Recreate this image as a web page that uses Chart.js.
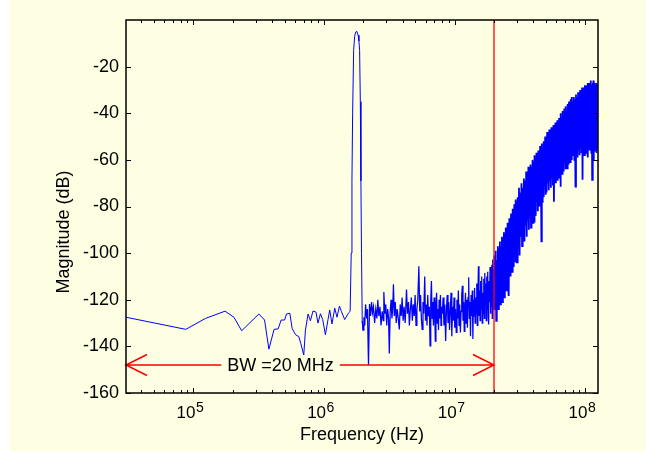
<!DOCTYPE html>
<html>
<head>
<meta charset="utf-8">
<style>
  html, body { margin: 0; padding: 0; background: #ffffff; }
  canvas { display: block; }
</style>
</head>
<body>
<canvas id="spectrum" width="646" height="454"></canvas>
<script src="https://cdn.jsdelivr.net/npm/chart.js@4.4.1/dist/chart.umd.min.js"></script>
<script>
// spectrum: frequency in MHz, magnitude in dB
const lowMHz = [0.0305176, 0.0875, 0.124, 0.1746, 0.2045, 0.2342, 0.3174, 0.3508, 0.3784, 0.415, 0.4456, 0.4698, 0.4989, 0.5166, 0.5475, 0.5702, 0.6053, 0.6414, 0.664, 0.6998, 0.721, 0.755, 0.787, 0.824, 0.868, 0.899, 0.939, 0.977, 1.025, 1.073, 1.106, 1.151, 1.208, 1.257, 1.312, 1.358, 1.439, 1.545];
const lowDb = [-127.5, -132.7, -128, -124.9, -127.5, -133.3, -126.1, -128.7, -141.2, -132.7, -132.5, -128.7, -128.7, -126.1, -125.8, -132.3, -135, -135.8, -138.7, -143.7, -133, -126.1, -129, -124.8, -125.3, -130, -126, -128.5, -135, -128.5, -124.4, -130.4, -123.6, -127.5, -122.7, -125, -128.5, -125.6];

// the tone
const peakMHz = [1.585, 1.615, 1.636, 1.656, 1.686, 1.716, 1.746, 1.786, 1.824, 1.85, 1.873, 1.896, 1.916, 1.936, 1.961];
const peakDb = [-125, -100, -69, -40, -13, -7, -5.2, -4.9, -6.5, -9, -13, -35, -69, -100, -129];

// in-band noise floor
const mid1MHz = [1.99, 2.02, 2.05, 2.08, 2.12, 2.15, 2.19, 2.23, 2.27, 2.31, 2.35, 2.39, 2.44, 2.49, 2.54, 2.58, 2.63, 2.68, 2.73, 2.79, 2.84, 2.87, 2.92, 2.97, 3.02, 3.07, 3.12, 3.16, 3.21, 3.26, 3.31, 3.36, 3.40, 3.45, 3.51, 3.57, 3.63, 3.70, 3.77, 3.83, 3.90, 3.96, 4.03];
const mid1Db = [-133, -127.5, -131, -122, -128, -124, -148, -121.8, -127, -121, -125.6, -123, -130, -124, -128, -120, -127, -123, -131, -125, -129, -116.7, -126, -122, -131, -124, -128, -143, -125, -120, -128, -123, -113.4, -127, -121, -130, -124, -128, -132.7, -122, -127, -119, -129];
const mid2MHz = [4.10, 4.18, 4.28, 4.35, 4.43, 4.50, 4.58, 4.66, 4.74, 4.82, 4.90, 4.98, 5.06, 5.14, 5.22, 5.32, 5.40, 5.48, 5.56, 5.64, 5.72, 5.80, 5.90, 5.98, 6.06, 6.14, 6.22, 6.30, 6.40, 6.48, 6.56, 6.64, 6.72, 6.80, 6.88, 6.96, 7.04, 7.11, 7.19, 7.27, 7.36, 7.44, 7.52, 7.60, 7.69, 7.78, 7.86, 7.94];
const mid2Db = [-123, -130, -115.6, -126, -121, -131, -124, -119, -129, -122, -127, -118, -131, -124, -120, -105.6, -125, -118, -128, -132.7, -121, -126, -110, -129, -122, -131, -118, -127, -123, -139.8, -120, -112, -128, -121, -131, -119, -126, -137.7, -122, -117, -130, -124, -133, -120, -128, -118, -131, -123];
const mid3MHz = [8.04, 8.16, 8.28, 8.40, 8.53, 8.65, 8.77, 8.89, 9.01, 9.13, 9.25, 9.38, 9.51, 9.63, 9.76, 9.89, 10.02, 10.15, 10.28, 10.41, 10.54, 10.67, 10.80, 10.93, 11.06, 11.19, 11.32, 11.45, 11.58, 11.71, 11.84, 11.97, 12.10, 12.24, 12.38, 12.52, 12.66, 12.80, 12.94, 13.08, 13.22, 13.36, 13.50, 13.64, 13.78, 13.92];
const mid3Db = [-126, -119, -131, -122, -137.7, -124, -118, -130, -121, -133, -125, -117, -135.6, -123, -129, -119, -132, -124, -134, -120, -128, -116, -131, -122, -134, -125, -118, -114, -129, -121, -133.6, -123, -117, -130, -120, -132, -119, -110.4, -128, -121, -135.6, -118, -127, -116, -136.8, -120];
const mid4MHz = [14.06, 14.20, 14.34, 14.48, 14.62, 14.76, 14.90, 15.05, 15.20, 15.35, 15.50, 15.65, 15.80, 15.95, 16.10, 16.25, 16.40, 16.55, 16.70, 16.85, 17.00, 17.15, 17.30, 17.45, 17.60, 17.75, 17.90, 18.05, 18.20, 18.35, 18.50, 18.65, 18.80, 18.95, 19.10, 19.25, 19.40, 19.55, 19.70, 19.85, 20.00];
const mid4Db = [-127, -115, -130, -119, -126, -113, -131, -118, -105.6, -127, -116, -129, -112, -124, -110, -130, -117, -126, -111, -128, -108.5, -122, -113, -129, -110, -124, -108, -127, -130.6, -112, -121, -106, -126, -109, -123, -105, -128, -102.7, -118, -107, -124];

// shaped noise above the band edge
const high1MHz = [20.2, 20.4, 20.6, 20.8, 21.0, 21.2, 21.4, 21.6, 21.8, 22.0, 22.2, 22.4, 22.6, 22.8, 23.0, 23.2, 23.4, 23.6, 23.8, 24.0, 24.2, 24.4, 24.6, 24.8, 25.0, 25.2, 25.4, 25.6, 25.8, 26.0, 26.2, 26.4, 26.6, 26.8, 27.0, 27.2, 27.4, 27.6, 27.8, 28.0, 28.2, 28.4, 28.6, 28.8, 29.0, 29.2, 29.4, 29.6, 29.8, 30.0];
const high1Db = [-101, -122, -99, -129, -103, -119, -97, -124, -98, -117, -95, -122, -97, -115, -93, -121, -94, -113, -91, -119, -92, -111, -89, -116, -90, -108, -87, -113, -88, -118.4, -85, -106, -86, -110, -83, -103, -84, -108, -81, -101, -82, -106, -79, -99, -80, -104, -77, -97, -78, -104];
const high2MHz = [30.35, 30.70, 31.05, 31.40, 31.75, 32.10, 32.45, 32.80, 33.15, 33.50, 33.85, 34.20, 34.55, 34.90, 35.25, 35.60, 35.95, 36.30, 36.65, 37.00, 37.35, 37.70, 38.05, 38.40, 38.75, 39.10, 39.45, 39.80, 40.15, 40.50, 40.85, 41.20, 41.55, 41.90, 42.25, 42.60, 42.95, 43.30, 43.65, 44.00, 44.35, 44.70, 45.05, 45.40, 45.75, 46.10, 46.45, 46.80, 47.15, 47.50, 47.85, 48.20, 48.55, 48.90, 49.25, 49.60, 49.95];
const high2Db = [-76, -96, -72, -101, -74, -93, -70, -97, -72, -90, -68, -95, -69, -88, -65, -93, -67, -86, -63, -90, -65, -84, -62, -89, -63, -82, -60, -87, -61, -86.5, -58, -80, -60, -84, -57, -78, -59, -82, -56, -77, -57, -80, -54, -75, -56, -95, -53, -78, -55, -73, -52, -76, -53, -71, -50, -75, -51];
const high3MHz = [50.5, 51.0, 51.5, 52.0, 52.5, 53.0, 53.5, 54.0, 54.5, 55.0, 55.5, 56.0, 56.5, 57.0, 57.5, 58.0, 58.5, 59.0, 59.5, 60.0, 60.5, 61.0, 61.5, 62.0, 62.5, 63.0, 63.5, 64.0, 64.5, 65.0, 65.5, 66.0, 66.5, 67.0, 67.5, 68.0, 68.5, 69.0, 69.5, 70.0, 70.5, 71.0, 71.5, 72.0, 72.5, 73.0, 73.5, 74.0, 74.5, 75.0, 75.5, 76.0, 76.5, 77.0, 77.5, 78.0, 78.5, 79.0, 79.5, 80.0];
const high3Db = [-74, -48, -70, -50, -73, -47, -69, -49, -72, -46, -68, -48, -71, -45, -78, -47, -67, -44, -70, -46, -66, -43, -69, -44, -65, -42, -68, -43, -71.5, -40, -64, -42, -66, -39, -62, -41, -65, -38, -61, -40, -64, -37, -60, -39, -63.6, -36, -59, -38, -62, -35, -58, -37, -61, -34, -57, -36, -60, -33, -58, -35];
const high4MHz = [80.8, 81.6, 82.4, 83.2, 84.0, 84.8, 85.6, 86.4, 87.2, 88.0, 88.8, 89.6, 90.4, 91.2, 92.0, 92.8, 93.6, 94.4, 95.2, 96.0, 96.8, 97.6, 98.4, 99.2, 100.0, 100.8, 101.6, 102.4, 103.2, 104.0, 104.8, 105.6, 106.4, 107.2, 108.0, 108.8, 109.6, 110.4, 111.2, 112.0, 112.8, 113.6, 114.4, 115.2, 116.0, 116.8, 117.6, 118.4, 119.2, 120.0, 120.8, 121.6, 122.4, 123.2, 124.0, 124.8];
const high4Db = [-58, -33, -60, -34, -71.5, -32, -57, -33, -59, -31, -56, -32, -58, -30, -55, -31, -57, -29, -68.5, -30, -55, -29, -58, -28, -54, -30, -57, -28, -55, -27, -59, -29, -54, -27, -56, -28, -53, -26, -57, -28, -68.6, -27, -55, -26, -60, -28, -54, -27, -56, -28, -53, -27, -57, -29, -55, -28];

// axes and annotation
const yTicks = [-160, -140, -120, -100, -80, -60, -40, -20];
const xTicks = [1e5, 1e6, 1e7, 1e8];
const xTickExp = ['5', '6', '7', '8'];
const xMinHz = 30517.6;
const xMaxHz = 125e6;
const bwHz = 20e6;
const arrowDb = -148;
const bwLabel = 'BW =20 MHz';
const bwLabelHz = 4.65e5;

const toPoints = (fs, ds) => fs.map((f, i) => ({ x: f * 1e6, y: ds[i] }));
const lowPts = toPoints(lowMHz.concat(peakMHz), lowDb.concat(peakDb));
const midPts = toPoints(mid1MHz.concat(mid2MHz, mid3MHz, mid4MHz), mid1Db.concat(mid2Db, mid3Db, mid4Db));
const highPts = toPoints(high1MHz.concat(high2MHz, high3MHz, high4MHz), high1Db.concat(high2Db, high3Db, high4Db));

const FONT = '"Liberation Sans", Arial, Helvetica, sans-serif';

// matlab-ish figure: yellow backdrop, boxed axes with inward ticks, BW marker
const matlabAxes = {
  id: 'matlabAxes',
  beforeDraw(chart) {
    const ctx = chart.ctx;
    ctx.save();
    ctx.fillStyle = '#fefee2';
    ctx.fillRect(10, 0, chart.width - 10, chart.height - 3);
    ctx.restore();
  },
  afterDatasetsDraw(chart) {
    const { ctx, chartArea: a, scales: { x, y } } = chart;
    ctx.save();
    const bx = x.getPixelForValue(bwHz);
    const lx0 = x.getPixelForValue(xMinHz);
    const ay = y.getPixelForValue(arrowDb);
    const tx = x.getPixelForValue(bwLabelHz);

    ctx.strokeStyle = '#ff0000';
    ctx.lineWidth = 1.3;
    ctx.beginPath();
    ctx.moveTo(bx, a.top);
    ctx.lineTo(bx, a.bottom);
    ctx.stroke();

    ctx.font = '18px ' + FONT;
    const tw = ctx.measureText(bwLabel).width;
    ctx.lineWidth = 1.5;
    ctx.beginPath();
    ctx.moveTo(lx0, ay);
    ctx.lineTo(tx - tw / 2 - 6, ay);
    ctx.moveTo(tx + tw / 2 + 6, ay);
    ctx.lineTo(bx, ay);
    ctx.moveTo(lx0 + 21, ay - 10.5);
    ctx.lineTo(lx0, ay);
    ctx.lineTo(lx0 + 21, ay + 10.5);
    ctx.moveTo(bx - 21, ay - 10.5);
    ctx.lineTo(bx, ay);
    ctx.lineTo(bx - 21, ay + 10.5);
    ctx.stroke();

    ctx.fillStyle = '#000';
    ctx.textAlign = 'center';
    ctx.textBaseline = 'middle';
    ctx.fillText(bwLabel, tx, ay + 1);
    ctx.restore();
  },
  afterDraw(chart) {
    const { ctx, chartArea: a, scales: { x, y } } = chart;
    ctx.save();
    ctx.strokeStyle = '#000';
    ctx.lineWidth = 1;
    ctx.beginPath();
    // y ticks, both sides
    yTicks.forEach(v => {
      const py = Math.round(y.getPixelForValue(v)) + 0.5;
      ctx.moveTo(a.left, py); ctx.lineTo(a.left + 5, py);
      ctx.moveTo(a.right, py); ctx.lineTo(a.right - 5, py);
    });
    // x ticks, log decades with minor marks
    for (let d = 1e4; d <= 1e8; d *= 10) {
      for (let m = 1; m <= 9; m++) {
        const v = d * m;
        if (v < xMinHz || v > xMaxHz) continue;
        const len = m === 1 ? 5 : 3;
        const px = Math.round(x.getPixelForValue(v)) + 0.5;
        ctx.moveTo(px, a.bottom); ctx.lineTo(px, a.bottom - len);
        ctx.moveTo(px, a.top); ctx.lineTo(px, a.top + len);
      }
    }
    ctx.stroke();

    ctx.lineWidth = 1.5;
    ctx.strokeRect(a.left, a.top, a.right - a.left, a.bottom - a.top);

    // decade labels as 10 with raised exponent
    ctx.fillStyle = '#000';
    ctx.textAlign = 'left';
    ctx.textBaseline = 'alphabetic';
    xTicks.forEach((v, i) => {
      const px = x.getPixelForValue(v);
      ctx.font = '17px ' + FONT;
      const w1 = ctx.measureText('10').width;
      ctx.font = '14px ' + FONT;
      const w2 = ctx.measureText(xTickExp[i]).width;
      const start = px - 3.5 - (w1 + w2) / 2;
      ctx.font = '17px ' + FONT;
      ctx.fillText('10', start, a.bottom + 25);
      ctx.font = '14px ' + FONT;
      ctx.fillText(xTickExp[i], start + w1 + 0.5, a.bottom + 18.5);
    });

    // axis titles
    ctx.font = '18px ' + FONT;
    ctx.textAlign = 'center';
    ctx.fillText('Frequency (Hz)', (a.left + a.right) / 2, 439.5);
    ctx.translate(68.5, 232);
    ctx.rotate(-Math.PI / 2);
    ctx.fillText('Magnitude (dB)', 0, 0);
    ctx.restore();
  }
};

const blueLine = (pts, w) => ({
  data: pts,
  borderColor: '#0000ff',
  borderWidth: w,
  pointRadius: 0,
  tension: 0,
  fill: false
});

new Chart(document.getElementById('spectrum'), {
  type: 'line',
  data: {
    datasets: [
      blueLine(lowPts.concat(midPts.slice(0, 1)), 1),
      blueLine(lowPts.slice(-1).concat(midPts, highPts.slice(0, 1)), 1.25),
      blueLine(midPts.slice(-1).concat(highPts), 1.8)
    ]
  },
  options: {
    responsive: false,
    animation: false,
    devicePixelRatio: 1,
    layout: { padding: { left: 0, top: 20, right: 48, bottom: 0 } },
    plugins: { legend: { display: false }, tooltip: { enabled: false } },
    scales: {
      x: {
        type: 'logarithmic',
        min: xMinHz,
        max: xMaxHz,
        grid: { display: false, drawTicks: false },
        border: { display: false },
        ticks: { display: false },
        afterFit: s => { s.height = 61; }
      },
      y: {
        type: 'linear',
        min: -160,
        max: 0,
        grid: { display: false, drawTicks: false },
        border: { display: false },
        afterBuildTicks: s => { s.ticks = yTicks.map(v => ({ value: v })); },
        ticks: {
          color: '#000',
          padding: 7,
          font: { family: FONT, size: 18 },
          callback: v => String(v)
        },
        afterFit: s => { s.width = 126; }
      }
    }
  },
  plugins: [matlabAxes]
});
</script>
</body>
</html>
